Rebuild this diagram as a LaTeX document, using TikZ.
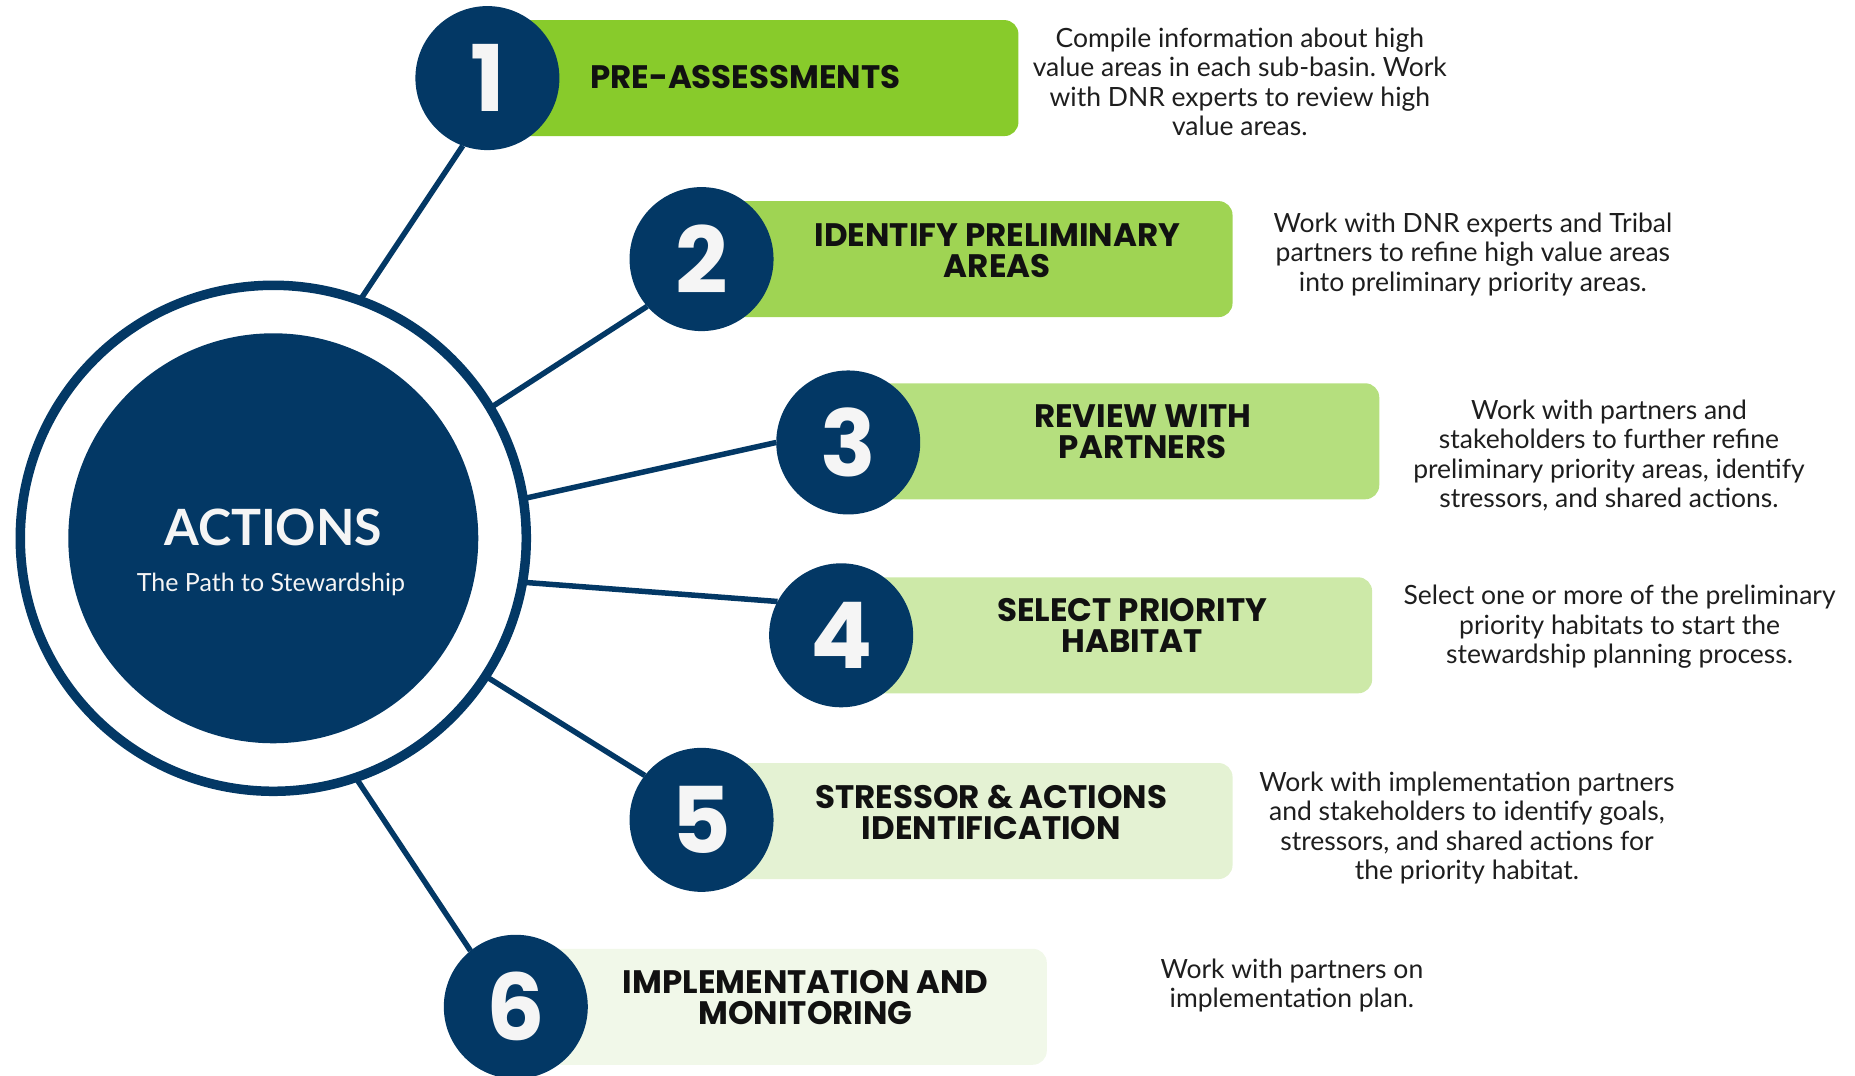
\documentclass[tikz,border=0pt]{standalone}
\usepackage{fontspec}
\setmainfont{Lato}
\newfontfamily\headfont{Poppins}
\definecolor{navy}{HTML}{033865}
\definecolor{gA}{HTML}{88CB2B}
\definecolor{gB}{HTML}{9FD453}
\definecolor{gC}{HTML}{B5DF7E}
\definecolor{gD}{HTML}{CDE9A8}
\definecolor{gE}{HTML}{E4F2D3}
\definecolor{gF}{HTML}{F1F8E9}
\definecolor{numwhite}{HTML}{F5F5F5}
\definecolor{headtext}{HTML}{111111}
\definecolor{desctext}{HTML}{1E1E1E}
\frenchspacing
\begin{document}
\begin{tikzpicture}[x=1.18304pt,y=-1.18304pt,
  conn/.style={draw=navy,line width=5.5pt},
  ringnode/.style={circle,draw=navy,line width=9.5pt,minimum size=506pt,inner sep=0pt,outer sep=0pt},
  corenode/.style={circle,fill=navy,minimum size=410pt,inner sep=0pt,outer sep=0pt},
  numnode/.style={circle,fill=navy,minimum size=144pt,inner sep=0pt,outer sep=0pt,text=numwhite,font=\headfont\bfseries\fontsize{92}{92}\selectfont},
  boxnode/.style={rounded corners=14pt,minimum height=116pt,minimum width=531pt,anchor=west,inner sep=0pt,outer sep=0pt},
  head/.style={font=\headfont\bfseries\fontsize{32.5}{31}\selectfont,align=center,text=headtext},
  desc/.style={font=\fontsize{26.5}{29.5}\selectfont,align=center,text=desctext},
]
\useasboundingbox (0,0) rectangle (1568,909);
\clip (0,0) rectangle (1568,909);

% boxes
\node[boxnode,fill=gA] (b1) at (412,66) {};
\node[boxnode,fill=gB] (b2) at (593,219) {};
\node[boxnode,fill=gC] (b3) at (717,373) {};
\node[boxnode,fill=gD] (b4) at (711,537) {};
\node[boxnode,fill=gE] (b5) at (593,694) {};
\node[boxnode,fill=gF] (b6) at (436,851) {};

% ring and core
\node[ringnode] (ring) at (231,455) {};
\node[corenode] (core) at (231,455) {};

% number circles
\node[numnode] (n1) at (412,66) {1};
\node[numnode] (n2) at (593,219) {2};
\node[numnode] (n3) at (717,374) {3};
\node[numnode] (n4) at (711,537) {4};
\node[numnode] (n5) at (593,693) {5};
\node[numnode] (n6) at (436,851) {6};

% connectors
\draw[conn] (ring.70) -- (n1.250);
\draw[conn] (ring.31) -- (n2.221);
\draw[conn] (ring.9) -- (n3.180);
\draw[conn] (ring.-10.6) -- (n4.152.6);
\draw[conn] (ring.-33) -- (n5.142.5);
\draw[conn] (ring.-71) -- (n6.129.6);

% center text
\node[text=numwhite,font=\bfseries\fontsize{50}{50}\selectfont] (title) at (231,446) {ACTIONS};
\node[text=numwhite,font=\fontsize{25}{28}\selectfont] (subtitle) at (229,494) {The Path to Stewardship};

% headings
\node[head] (h1) at (630,65) {PRE-ASSESSMENTS};
\node[head] (h2) at (843,212) {IDENTIFY PRELIMINARY\\AREAS};
\node[head] (h3) at (966,365) {REVIEW WITH\\PARTNERS};
\node[head] (h4) at (957,529) {SELECT PRIORITY\\HABITAT};
\node[head] (h5) at (838,687) {STRESSOR \& ACTIONS\\IDENTIFICATION};
\node[head] (h6) at (681,843) {IMPLEMENTATION AND\\MONITORING};

% descriptions
\node[desc] (d1) at (1048,69) {Compile information about high\\value areas in each sub-basin. Work\\with DNR experts to review high\\value areas.};
\node[desc] (d2) at (1245,215) {Work with DNR experts and Tribal\\partners to refine high value areas\\into preliminary priority areas.};
\node[desc] (d3) at (1360,385) {Work with partners and\\stakeholders to further refine\\preliminary priority areas, identify\\stressors, and shared actions.};
\node[desc] (d4) at (1369,530) {Select one or more of the preliminary\\priority habitats to start the\\stewardship planning process.};
\node[desc] (d5) at (1240,700) {Work with implementation partners\\and stakeholders to identify goals,\\stressors, and shared actions for\\the priority habitat.};
\node[desc] (d6) at (1092,833) {Work with partners on\\implementation plan.};
\end{tikzpicture}
\end{document}
